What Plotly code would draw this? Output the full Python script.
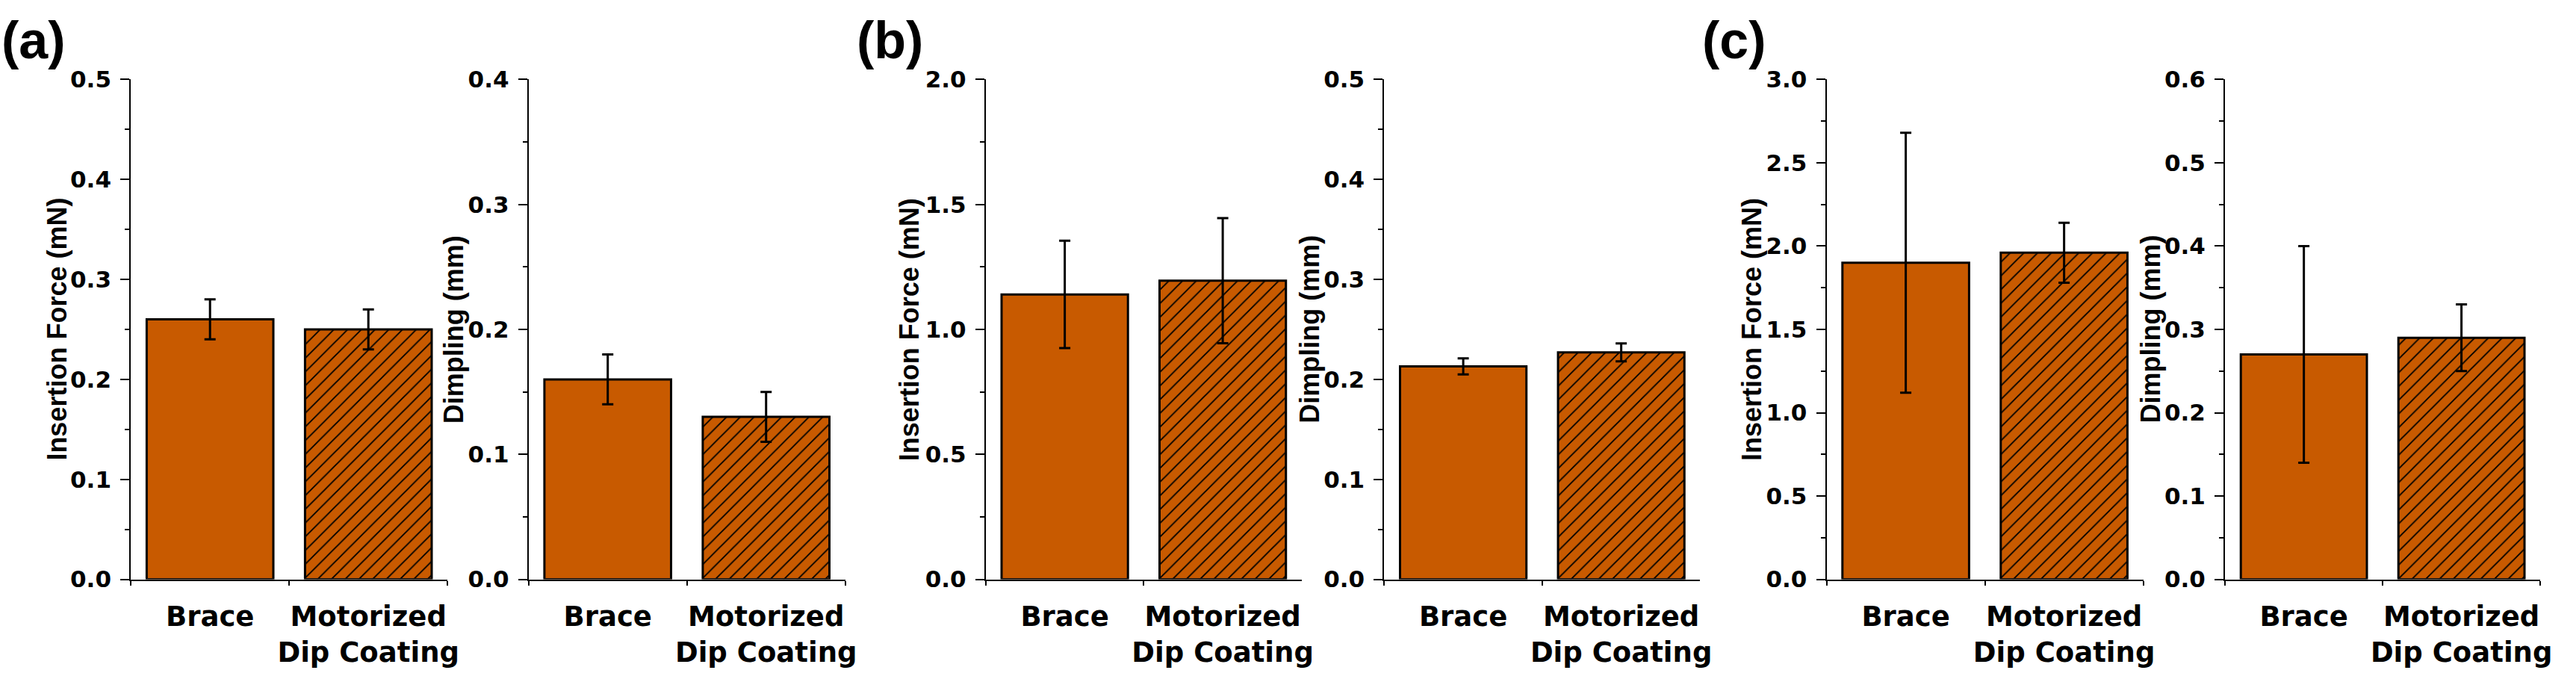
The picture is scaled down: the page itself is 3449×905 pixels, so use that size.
import plotly.graph_objects as go

# ---------------- data ----------------
categories = ["Brace", "Motorized<br>Dip Coating"]

a_force = [0.26, 0.25]
a_force_err = [0.02, 0.02]
a_dimp = [0.16, 0.13]
a_dimp_err = [0.02, 0.02]

b_force = [1.14, 1.195]
b_force_err = [0.215, 0.25]
b_dimp = [0.213, 0.227]
b_dimp_err = [0.008, 0.009]

c_force = [1.90, 1.96]
c_force_err = [0.78, 0.18]
c_dimp = [0.27, 0.29]
c_dimp_err = [0.13, 0.04]

force_title = "Insertion Force (mN)"
dimp_title = "Dimpling (mm)"
panel_labels = ["(a)", "(b)", "(c)"]

# ---------------- styling ----------------
W, H = 3449, 905
BAR = "#C85A00"
TICKFONT = dict(family="DejaVu Sans", size=31, color="black", weight="bold")
CATFONT = dict(family="DejaVu Sans", size=37, color="black", weight="bold")
TITLEFONT = dict(family="Liberation Sans", size=36, color="black", weight="bold")

# pixel positions of the six axes (left edge, right edge of plot area)
xpix = [(176, 602), (711, 1137), (1326, 1751), (1862, 2287), (2457, 2883), (2993, 3417)]
title_x = [77, 611, 1224, 1762, 2357, 2893]
ybot, ytop = 789, 92
ydom = [1 - ybot / H, 1 - ytop / H]

panels = [
    (a_force, a_force_err, force_title, [0, 0.5], 0.1, 0.05),
    (a_dimp, a_dimp_err, dimp_title, [0, 0.4], 0.1, 0.05),
    (b_force, b_force_err, force_title, [0, 2.0], 0.5, 0.25),
    (b_dimp, b_dimp_err, dimp_title, [0, 0.5], 0.1, 0.05),
    (c_force, c_force_err, force_title, [0, 3.0], 0.5, 0.25),
    (c_dimp, c_dimp_err, dimp_title, [0, 0.6], 0.1, 0.05),
]

fig = go.Figure()
layout = {}
annotations = []
for i, (vals, errs, ytitle, yr, dt, mdt) in enumerate(panels):
    n = "" if i == 0 else str(i + 1)
    fig.add_trace(go.Bar(
        x=categories, y=vals,
        xaxis="x" + n, yaxis="y" + n,
        width=0.8,
        marker=dict(
            color=BAR,
            line=dict(color="black", width=3),
            pattern=dict(shape=["", "/"], fgcolor="black", bgcolor=BAR,
                         size=13, solidity=0.14, fillmode="replace"),
        ),
        error_y=dict(type="data", array=errs, color="black", thickness=3, width=7.5),
        showlegend=False,
    ))
    x0, x1 = xpix[i]
    layout["xaxis" + n] = dict(
        domain=[x0 / W, x1 / W], anchor="y" + n,
        type="category", range=[-0.5, 1.5],
        showline=True, linecolor="black", linewidth=2,
        ticks="outside", tickson="boundaries", ticklen=6, tickwidth=2, tickcolor="black",
        tickfont=CATFONT, tickangle=0, showgrid=False, zeroline=False,
        ticklabelstandoff=16,
    )
    layout["yaxis" + n] = dict(
        domain=ydom, anchor="x" + n, range=yr,
        tickmode="linear", tick0=0, dtick=dt, tickformat=".1f",
        showline=True, linecolor="black", linewidth=2,
        ticks="outside", ticklen=12, tickwidth=2, tickcolor="black",
        minor=dict(ticks="outside", ticklen=6, tickwidth=2, tickcolor="black", dtick=mdt, tick0=0),
        tickfont=TICKFONT, showgrid=False, zeroline=False,
        ticklabelstandoff=6,
    )
    annotations.append(dict(
        text=ytitle, x=title_x[i] / W, y=1 - ((ybot + ytop) / 2) / H,
        xref="paper", yref="paper", xanchor="center", yanchor="middle",
        textangle=-90, showarrow=False, font=TITLEFONT,
    ))

label_x = [0, 1150, 2288]
for t, lx in zip(panel_labels, label_x):
    annotations.append(dict(
        text=t, x=lx / W, y=1 - 37 / H, xref="paper", yref="paper",
        xanchor="left", yanchor="middle", showarrow=False,
        font=dict(family="Liberation Sans", size=70, color="black", weight="bold"),
    ))

fig.update_layout(
    width=W, height=H,
    margin=dict(l=0, r=0, t=0, b=0),
    paper_bgcolor="white", plot_bgcolor="white",
    bargap=0.2, showlegend=False,
    annotations=annotations,
    **layout,
)

fig.write_html("out.html")
